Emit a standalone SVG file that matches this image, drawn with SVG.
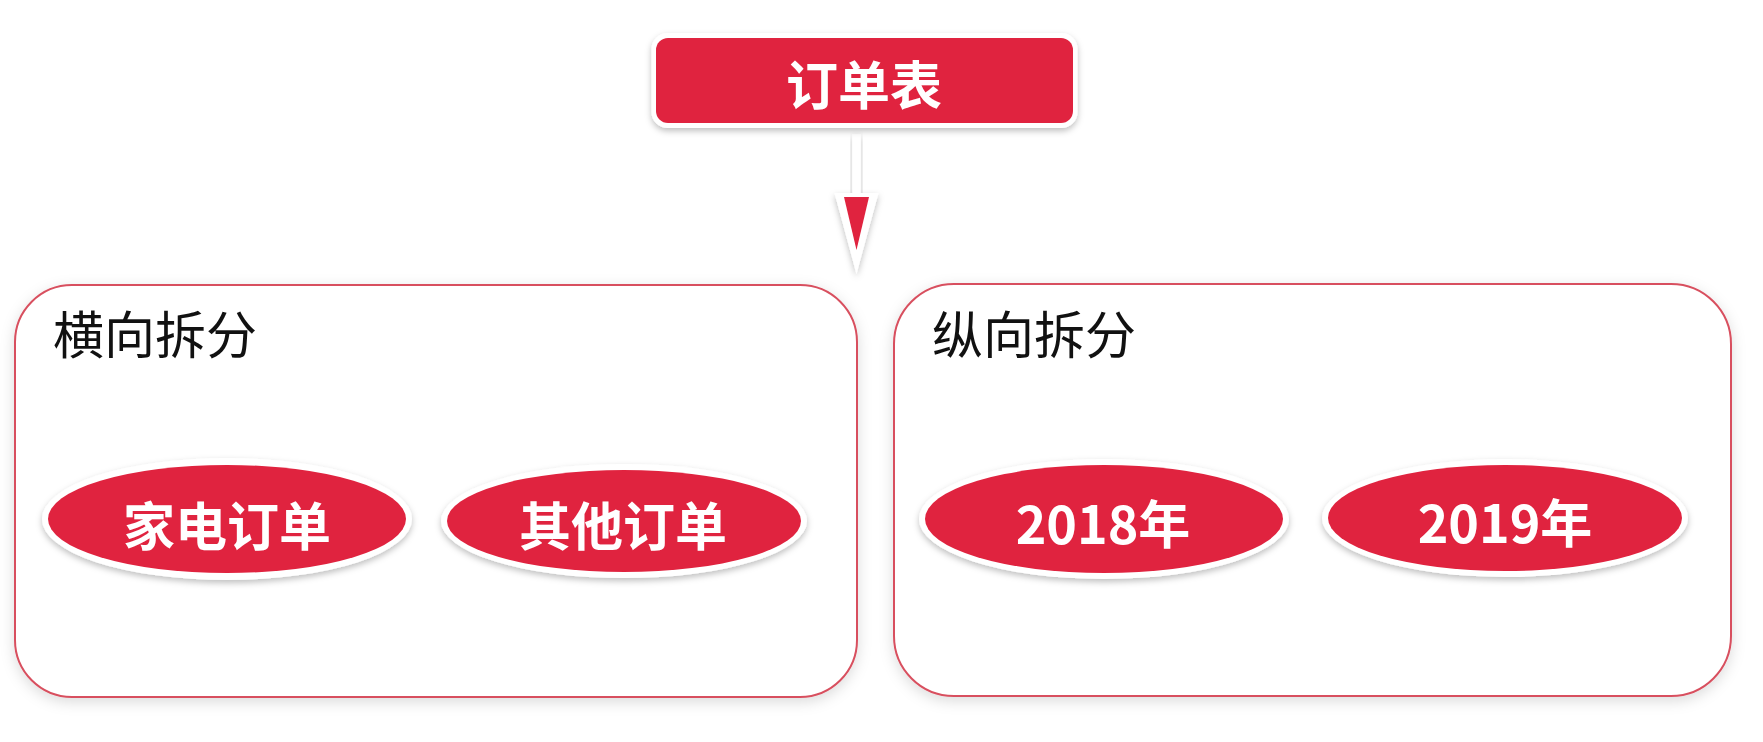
<svg xmlns="http://www.w3.org/2000/svg" width="1763" height="742" viewBox="0 0 1763 742">
  <defs>
    <filter id="sh" x="-20%" y="-30%" width="140%" height="170%">
      <feDropShadow dx="0" dy="3" stdDeviation="3" flood-color="#000" flood-opacity="0.25"/>
    </filter>
    <filter id="csh" x="-10%" y="-10%" width="120%" height="125%">
      <feDropShadow dx="0" dy="4" stdDeviation="7" flood-color="#000" flood-opacity="0.14"/>
    </filter>
    <style>
      .cont { fill: #ffffff; stroke: #D8505F; stroke-width: 2; filter: url(#csh); }
      .title { font-family: "Noto Sans CJK SC", "Noto Sans", sans-serif; font-size: 51px; fill: #111; }
      .halo { fill: #ffffff; filter: url(#sh); }
      .red { fill: #E0233F; }
      .lbl { font-family: "Noto Sans CJK SC", "Noto Sans", sans-serif; font-size: 52px; font-weight: bold; fill: #ffffff; text-anchor: middle; dominant-baseline: central; }
    </style>
  </defs>
  <rect width="1763" height="742" fill="#ffffff"/>

  <g id="horizontal">
    <rect class="cont" x="15" y="285" width="842" height="412" rx="57" ry="57"/>
    <text class="title" x="53" y="354">横向拆分</text>
  </g>

  <g id="vertical">
    <rect class="cont" x="894" y="284" width="837" height="412" rx="60" ry="60"/>
    <text class="title" x="932" y="354">纵向拆分</text>
  </g>

  <g id="connectors">
    <rect x="852.5" y="134" width="8" height="66" fill="#ffffff" filter="url(#sh)"/>
    <polygon points="834.5,193 878.5,193 856.5,274" fill="#ffffff" filter="url(#sh)"/>
    <rect x="852.5" y="134" width="8" height="66" fill="#ffffff"/>
    <polygon points="844,197 869,197 856.5,250" class="red"/>
  </g>

  <g id="order-table">
    <rect class="halo" x="651.5" y="33" width="426" height="95" rx="16" ry="16"/>
    <rect class="red" x="656" y="38" width="417" height="85" rx="12" ry="12"/>
    <text class="lbl" x="864" y="82">订单表</text>
  </g>

  <g id="appliance-orders">
    <ellipse class="halo" cx="227" cy="519" rx="185" ry="61"/>
    <ellipse class="red" cx="227" cy="519" rx="179" ry="54"/>
    <text class="lbl" x="227" y="523">家电订单</text>
  </g>

  <g id="other-orders">
    <ellipse class="halo" cx="624" cy="521" rx="183" ry="57"/>
    <ellipse class="red" cx="624" cy="521" rx="177" ry="51"/>
    <text class="lbl" x="623" y="523">其他订单</text>
  </g>

  <g id="y2018">
    <ellipse class="halo" cx="1104" cy="519" rx="185" ry="60"/>
    <ellipse class="red" cx="1104" cy="519" rx="179" ry="54"/>
    <text class="lbl" x="1103" y="521">2018年</text>
  </g>

  <g id="y2019">
    <ellipse class="halo" cx="1505" cy="518" rx="183" ry="59"/>
    <ellipse class="red" cx="1505" cy="518" rx="177" ry="53"/>
    <text class="lbl" x="1505" y="520">2019年</text>
  </g>
</svg>
